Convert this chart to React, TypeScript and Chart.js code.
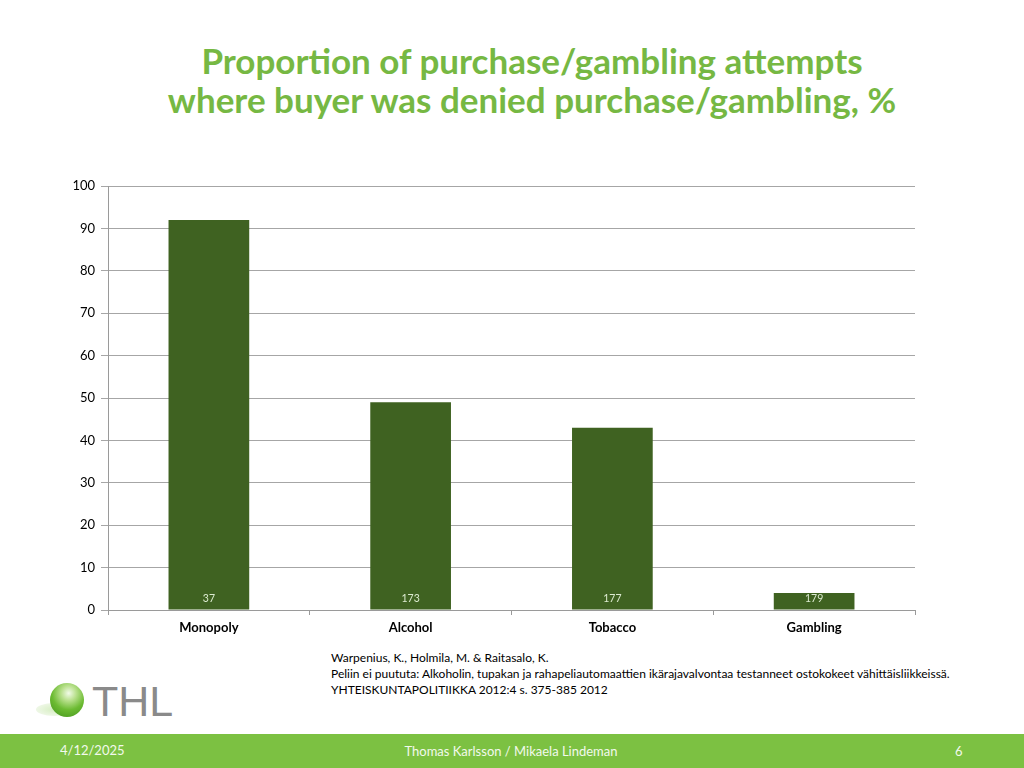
import React, { useEffect, useRef } from "react";
import { Chart, registerables } from "chart.js";

Chart.register(...registerables);

const categories = ["Monopoly", "Alcohol", "Tobacco", "Gambling"];
const deniedPercent = [92, 49, 43, 4];
const sampleSizes = ["37", "173", "177", "179"];
const yTicks = [0, 10, 20, 30, 40, 50, 60, 70, 80, 90, 100];

const FONT = "Lato, 'Open Sans', sans-serif";

const innerLabels = {
  id: "innerLabels",
  afterDatasetsDraw(chart: any) {
    const ctx = chart.ctx;
    const meta = chart.getDatasetMeta(0);
    ctx.save();
    ctx.fillStyle = "#dcebd0";
    ctx.font = `10.5px ${FONT}`;
    ctx.textAlign = "center";
    ctx.textBaseline = "middle";
    meta.data.forEach((bar: any, i: number) => {
      ctx.fillText(sampleSizes[i], bar.x, bar.base - 11);
    });
    ctx.restore();
  },
};

export default function App() {
  const ref = useRef<HTMLCanvasElement | null>(null);

  useEffect(() => {
    if (!ref.current) return;
    const chart = new Chart(ref.current, {
      type: "bar",
      data: {
        labels: categories,
        datasets: [
          {
            data: deniedPercent,
            backgroundColor: "#3f6221",
            borderWidth: 0,
            barPercentage: 0.4,
            categoryPercentage: 1,
          },
        ],
      },
      options: {
        responsive: false,
        animation: false,
        layout: { padding: { top: 26, right: 109, left: 0, bottom: 0 } },
        plugins: {
          legend: { display: false },
          tooltip: { enabled: false },
          title: { display: false },
        },
        scales: {
          x: {
            offset: true,
            afterFit: (axis: any) => {
              axis.height = 40;
            },
            grid: {
              offset: true,
              drawOnChartArea: false,
              drawTicks: true,
              tickLength: 5,
              color: "#9a9a9a",
            },
            border: { color: "#9a9a9a", width: 1 },
            ticks: {
              color: "#000000",
              font: { family: FONT, size: 13, weight: "bold" },
              padding: 5,
            },
          },
          y: {
            min: 0,
            max: 100,
            afterFit: (axis: any) => {
              axis.width = 108;
            },
            afterBuildTicks: (axis: any) => {
              axis.ticks = yTicks.map((v) => ({ value: v }));
            },
            grid: {
              color: "#a6a6a6",
              tickLength: 7,
              lineWidth: 1,
            },
            border: { color: "#9a9a9a", width: 1 },
            ticks: {
              color: "#000000",
              font: { family: FONT, size: 13 },
              padding: 6,
              stepSize: 10,
            },
          },
        },
      },
      plugins: [innerLabels],
    });
    return () => chart.destroy();
  }, []);

  return (
    <div
      style={{
        position: "absolute",
        left: 0,
        top: 0,
        width: 1024,
        height: 768,
        background: "#ffffff",
        overflow: "hidden",
        fontFamily: FONT,
      }}
    >
      <div
        style={{
          position: "absolute",
          left: 0,
          top: 41,
          width: 1064,
          textAlign: "center",
          color: "#76b843",
          fontWeight: 700,
          fontSize: 35,
          lineHeight: "39px",
        }}
      >
        Proportion of purchase/gambling attempts
        <br />
        where buyer was denied purchase/gambling, %
      </div>
      <canvas
        ref={ref}
        width={1024}
        height={490}
        style={{ position: "absolute", left: 0, top: 160, width: 1024, height: 490 }}
      />
      <div
        style={{
          position: "absolute",
          left: 331,
          top: 650,
          fontSize: 12,
          lineHeight: "16px",
          color: "#000",
        }}
      >
        Warpenius, K., Holmila, M. &amp; Raitasalo, K.
        <br />
        Peliin ei puututa: Alkoholin, tupakan ja rahapeliautomaattien ikärajavalvontaa testanneet ostokokeet vähittäisliikkeissä.
        <br />
        YHTEISKUNTAPOLITIIKKA 2012:4 s. 375-385 2012
      </div>
      <div
        style={{
          position: "absolute",
          left: 36,
          top: 703,
          width: 36,
          height: 13,
          borderRadius: "50%",
          background: "radial-gradient(ellipse at center, #d6eec2 0%, #eef7e6 70%, rgba(255,255,255,0) 100%)",
        }}
      />
      <div
        style={{
          position: "absolute",
          left: 50,
          top: 683,
          width: 34,
          height: 34,
          borderRadius: "50%",
          background: "radial-gradient(circle at 55% 30%, #f2fbe8 0%, #b8e08c 25%, #6cbb32 55%, #3f8f1a 100%)",
        }}
      />
      <div
        style={{
          position: "absolute",
          left: 92,
          top: 677,
          fontSize: 43,
          lineHeight: "48px",
          color: "#8a8a8a",
          fontFamily: "'Liberation Sans', Arial, sans-serif",
        }}
      >
        THL
      </div>
      <div
        style={{
          position: "absolute",
          left: 0,
          top: 734,
          width: 1024,
          height: 34,
          background: "#7cc142",
          color: "#f2f9ec",
          fontSize: 13,
        }}
      >
        <span style={{ position: "absolute", left: 60, top: 8 }}>4/12/2025</span>
        <span style={{ position: "absolute", left: 0, width: 1022, top: 9, textAlign: "center" }}>
          Thomas Karlsson / Mikaela Lindeman
        </span>
        <span style={{ position: "absolute", left: 955, top: 9 }}>6</span>
      </div>
    </div>
  );
}
